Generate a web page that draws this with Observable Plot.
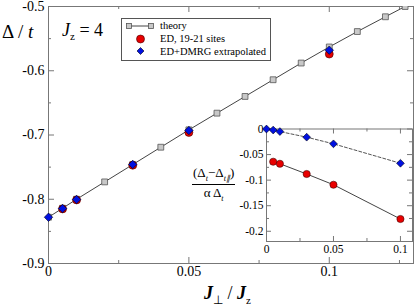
<!DOCTYPE html>
<html><head><meta charset="utf-8">
<script src="https://cdn.jsdelivr.net/npm/d3@7"></script>
<script src="https://cdn.jsdelivr.net/npm/@observablehq/plot@0.6"></script>
<style>
body{margin:0;background:#fff;}
#wrap{position:relative;width:415px;height:306px;font-family:"Liberation Serif","Times New Roman",serif;color:#000;overflow:hidden;}
#wrap svg{position:absolute;}
#wrap svg text{font-family:"Liberation Serif","Times New Roman",serif;}
.lab{position:absolute;white-space:nowrap;line-height:1;}
#legend{position:absolute;left:121px;top:18px;width:148px;height:41px;border:1px solid #555;background:#fff;font-size:10.5px;}
#legend .row{position:absolute;left:38px;white-space:nowrap;line-height:1;}
#legend svg{position:absolute;left:0;top:0;}
</style></head><body><div id="wrap"></div>
<script>
// ---- data ----
const theoryX = [0, 0.005, 0.01, 0.02, 0.03, 0.04, 0.05, 0.06, 0.07, 0.08, 0.09, 0.1, 0.11, 0.12, 0.127];
const theoryY = [-0.828, -0.814, -0.800, -0.773, -0.746, -0.719, -0.692, -0.666, -0.640, -0.614, -0.588, -0.563, -0.539, -0.516, -0.500];
const edX = [0.005, 0.01, 0.03, 0.05, 0.1];
const edY = [-0.815, -0.801, -0.747, -0.696, -0.574];
const dmrgX = [0, 0.005, 0.01, 0.03, 0.05, 0.1];
const dmrgY = [-0.828, -0.8145, -0.8005, -0.7458, -0.693, -0.568];
// inset: relative deviation
const insetEdY = [-0.064, -0.068, -0.088, -0.109, -0.176];
const insetDmrgY = [0, -0.002, -0.005, -0.016, -0.029, -0.067];
// ticks
const xMajor = [0, 0.05, 0.1];
const xMinor = [0.025, 0.075, 0.125];
const yMajor = [-0.9, -0.8, -0.7, -0.6, -0.5];
const yMinor = [-0.85, -0.75, -0.65, -0.55];
const ixMajor = [0, 0.05, 0.1];
const ixMinor = [0.025, 0.075];
const iyMajor = [0, -0.05, -0.1, -0.15, -0.2];
const iyMinor = [-0.025, -0.075, -0.125, -0.175];

const theory = theoryX.map((x, i) => ({x, y: theoryY[i]}));
const ed = edX.map((x, i) => ({x, y: edY[i]}));
const dmrg = dmrgX.map((x, i) => ({x, y: dmrgY[i]}));
const ied = edX.map((x, i) => ({x, y: insetEdY[i]}));
const idmrg = dmrgX.map((x, i) => ({x, y: insetDmrgY[i]}));

const fmt = d => String(d);
const axisCol = "#777";
const serif = '"Liberation Serif", "Times New Roman", serif';

function tickMarks(xMaj, xMin, yMaj, yMin, iW, iH, big, small) {
  const m = [];
  const add = (arr, len) => {
    m.push(Plot.tickX(arr.x, {x: d => d, stroke: axisCol, insetTop: iH - len}));
    m.push(Plot.tickX(arr.x, {x: d => d, stroke: axisCol, insetBottom: iH - len}));
    m.push(Plot.tickY(arr.y, {y: d => d, stroke: axisCol, insetRight: iW - len}));
    m.push(Plot.tickY(arr.y, {y: d => d, stroke: axisCol, insetLeft: iW - len}));
  };
  add({x: xMaj, y: yMaj}, big);
  add({x: xMin, y: yMin}, small);
  return m;
}

// ---- main plot ----
const W = 415, H = 306, mL = 48, mT = 6, mR = 2, mB = 43;
const iW = W - mL - mR, iH = H - mT - mB;
const main = Plot.plot({
  width: W, height: H,
  marginLeft: mL, marginTop: mT, marginRight: mR, marginBottom: mB,
  x: {domain: [0, 0.13]},
  y: {domain: [-0.9, -0.5]},
  style: {fontFamily: serif, fontSize: "14px", color: "#000", background: "transparent", overflow: "visible"},
  marks: [
    Plot.frame({stroke: axisCol}),
    ...tickMarks(xMajor, xMinor, yMajor, yMinor, iW, iH, 6, 3),
    Plot.axisX(xMajor, {tickSize: 0, tickPadding: 3, tickFormat: fmt, label: null, fontSize: 14, fontFamily: serif}),
    Plot.axisY(yMajor, {tickSize: 0, tickPadding: 4, tickFormat: fmt, label: null, fontSize: 14, fontFamily: serif}),
    Plot.line(theory, {x: "x", y: "y", stroke: "#444", strokeWidth: 1, clip: true}),
    Plot.dot(theory, {x: "x", y: "y", symbol: "square", r: 3.3, fill: "#c8c8c8", stroke: "#555", strokeWidth: 0.8, clip: true}),
    Plot.dot(ed, {x: "x", y: "y", r: 4, fill: "#e80000", stroke: "#400", strokeWidth: 0.6}),
    Plot.dot(dmrg, {x: "x", y: "y", symbol: "diamond2", r: 3.8, fill: "#0010e0", stroke: "#001", strokeWidth: 0.6})
  ]
});
main.style.left = "0px"; main.style.top = "0px";

// ---- inset ----
const IL = 180, IT = 118, IWd = 235, IHt = 145;
const imL = 86, imT = 10.5, imR = 3, imB = 22;
const iiW = IWd - imL - imR, iiH = IHt - imT - imB;
const inset = Plot.plot({
  width: IWd, height: IHt,
  marginLeft: imL, marginTop: imT, marginRight: imR, marginBottom: imB,
  x: {domain: [0, 0.109]},
  y: {domain: [-0.22, 0]},
  style: {fontFamily: serif, fontSize: "11px", color: "#000", background: "transparent", overflow: "visible"},
  marks: [
    Plot.frame({stroke: axisCol, fill: "white"}),
    ...tickMarks(ixMajor, ixMinor, iyMajor, iyMinor, iiW, iiH, 5, 3),
    Plot.axisX(ixMajor, {tickSize: 0, tickPadding: 3, tickFormat: fmt, label: null, fontSize: 11.5, fontFamily: serif}),
    Plot.axisY(iyMajor, {tickSize: 0, tickPadding: 3, tickFormat: fmt, label: null, fontSize: 11.5, fontFamily: serif}),
    Plot.line(idmrg, {x: "x", y: "y", stroke: "#555", strokeWidth: 1, strokeDasharray: "3,2"}),
    Plot.line(ied, {x: "x", y: "y", stroke: "#444", strokeWidth: 1}),
    Plot.dot(ied, {x: "x", y: "y", r: 3.6, fill: "#e80000", stroke: "#400", strokeWidth: 0.6}),
    Plot.dot(idmrg, {x: "x", y: "y", symbol: "diamond2", r: 3.5, fill: "#0010e0", stroke: "#001", strokeWidth: 0.6})
  ]
});
inset.style.left = IL + "px"; inset.style.top = IT + "px";

const wrap = document.getElementById("wrap");
wrap.appendChild(main);
wrap.appendChild(inset);

// ---- text labels ----
function lab(html, left, top, size) {
  const d = document.createElement("div");
  d.className = "lab";
  d.style.left = left + "px"; d.style.top = top + "px"; d.style.fontSize = size + "px";
  d.innerHTML = html;
  wrap.appendChild(d);
  return d;
}
lab('Δ / <i>t</i>', 2, 22, 19);
lab('<i>J</i><sub style="font-size:11px;vertical-align:-4px">z</sub> = 4', 62, 21, 18);
lab('<b><i>J</i></b><sub style="font-size:12px;vertical-align:-5px">⊥</sub> / <b><i>J</i></b><sub style="font-size:11px;vertical-align:-5px">z</sub>', 204, 284, 18);
lab('<div style="text-align:center"><div style="border-bottom:1px solid #000;padding:0 1px 1px">(Δ<sub style="font-size:8px"><i>t</i></sub>−Δ<sub style="font-size:8px"><i>t∥</i></sub>)</div><div style="padding-top:1px">α Δ<sub style="font-size:8px"><i>t</i></sub></div></div>', 192, 166, 13);

// ---- legend ----
const lg = document.createElement("div");
lg.id = "legend";
lg.innerHTML = `
<svg width="148" height="41">
  <line x1="7" y1="7" x2="29" y2="7" stroke="#444" stroke-width="1"/>
  <rect x="4.5" y="4.5" width="5" height="5" fill="#c8c8c8" stroke="#555" stroke-width="0.8"/>
  <rect x="26.5" y="4.5" width="5" height="5" fill="#c8c8c8" stroke="#555" stroke-width="0.8"/>
  <circle cx="18.5" cy="20" r="4" fill="#e80000" stroke="#400" stroke-width="0.6"/>
  <path d="M18.5,28.5 L22,32 L18.5,35.5 L15,32 Z" fill="#0010e0" stroke="#001" stroke-width="0.6"/>
</svg>
<div class="row" style="top:2px">theory</div>
<div class="row" style="top:15px">ED, 19-21 sites</div>
<div class="row" style="top:28px">ED+DMRG extrapolated</div>`;
wrap.appendChild(lg);
</script>
</body></html>
